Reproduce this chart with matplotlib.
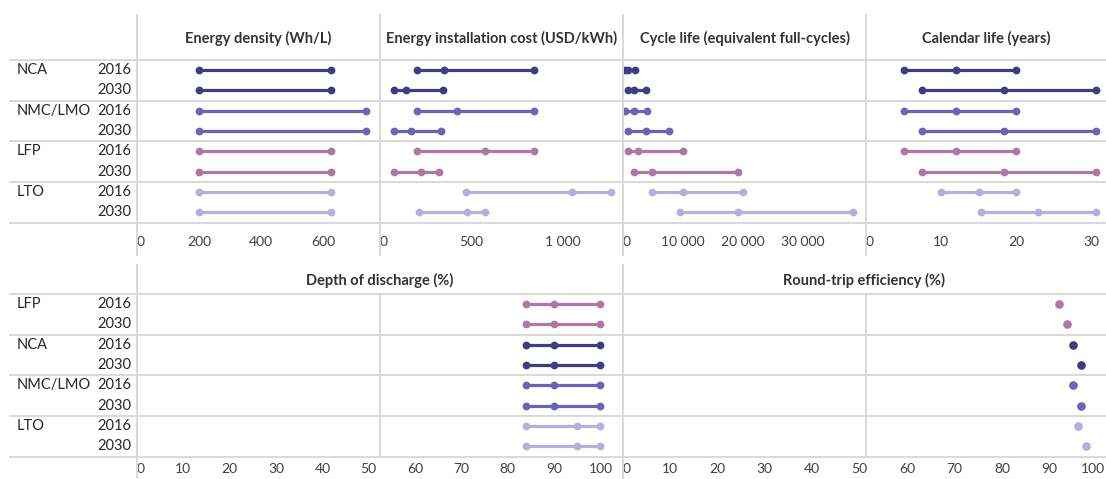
import matplotlib
matplotlib.use("Agg")
import matplotlib.pyplot as plt
from matplotlib.lines import Line2D
from matplotlib.transforms import blended_transform_factory, ScaledTranslation
import numpy as np

plt.rcParams['font.family'] = ['Lato', 'DejaVu Sans']

# ---- data ----
techs_top = ['NCA', 'NMC/LMO', 'LFP', 'LTO']
techs_bottom = ['LFP', 'NCA', 'NMC/LMO', 'LTO']
years = ['2016', '2030']
tech_colors = {'NCA': '#403c80', 'NMC/LMO': '#6b63b3', 'LFP': '#ae77a6', 'LTO': '#b6afdb'}

# energy density (Wh/L): min, max  (rows: tech x year)
density_min = [200, 200, 200, 200, 200, 200, 200, 200]
density_max = [625, 625, 740, 740, 625, 625, 625, 625]

# energy installation cost (USD/kWh): min, central, max
cost_min = [200, 76, 200, 76, 200, 76, 470, 213]
cost_mid = [350, 142, 420, 168, 575, 222, 1050, 475]
cost_max = [840, 345, 840, 333, 840, 324, 1260, 575]

# cycle life (equivalent full-cycles)
cycle_min = [300, 850, 350, 850, 900, 1750, 4900, 9500]
cycle_mid = [850, 1850, 1900, 3800, 2500, 4750, 10000, 19100]
cycle_max = [2000, 3800, 4000, 7600, 10000, 19100, 20000, 38300]

# calendar life (years)
cal_min = [5, 7.5, 5, 7.5, 5, 7.5, 10, 15.3]
cal_mid = [12, 18.4, 12, 18.4, 12, 18.4, 15, 22.9]
cal_max = [20, 30.6, 20, 30.6, 20, 30.6, 20, 30.6]

# depth of discharge (%)  (bottom row order)
dod_min = [84, 84, 84, 84, 84, 84, 84, 84]
dod_mid = [90, 90, 90, 90, 90, 90, 95, 95]
dod_max = [100, 100, 100, 100, 100, 100, 100, 100]

# round-trip efficiency (%)
rte = [92, 93.7, 95, 96.7, 95, 96.7, 96, 97.7]

# ---- layout helpers (pixel based) ----
W, H = 1106, 479
fig = plt.figure(figsize=(W / 100, H / 100), dpi=100)
grid_col = '#d9d9d9'
text_col = '#404040'


def add_ax(x0, x1, y0, y1, pad):
    ax = fig.add_axes([x0 / W, 1 - y1 / H, (x1 - x0) / W, (y1 - y0) / H])
    ax.set_ylim(7.5, -0.5)
    ax.set_yticks([])
    for s in ax.spines.values():
        s.set_visible(False)
    ax.tick_params(axis='x', length=0, pad=pad, labelsize=10, labelcolor=text_col)
    ax.patch.set_alpha(0)
    return ax


def hline(x0, x1, y):
    fig.add_artist(Line2D([x0 / W, x1 / W], [1 - y / H, 1 - y / H], color=grid_col, lw=1.4))


def vline(x, y0, y1):
    fig.add_artist(Line2D([x / W, x / W], [1 - y0 / H, 1 - y1 / H], color=grid_col, lw=1.4))


def draw_ranges(ax, rows, *series):
    for i in range(8):
        c = tech_colors[rows[i // 2]]
        xs = [s[i] for s in series]
        ax.plot(xs, [i] * len(xs), color=c, lw=2.3, marker='o', ms=4.6,
                solid_capstyle='round', zorder=3)


def set_ticks(ax, ticks, labels):
    ax.set_xticks(ticks)
    ax.set_xticklabels(labels)
    ax.get_xticklabels()[0].set_horizontalalignment('left')


def row_labels(ax, rows):
    tr = blended_transform_factory(fig.transFigure, ax.transData)
    for i in range(8):
        if i % 2 == 0:
            ax.text(17 / W, i, rows[i // 2], transform=tr, ha='left', va='center',
                    fontsize=10.5, color='#262626')
        ax.text(131 / W, i, years[i % 2], transform=tr, ha='right', va='center',
                fontsize=10.5, color='#262626')


# ---- top row ----
top_y0, top_y1 = 60, 222.5
cols_top = [137, 380, 623, 866, 1106]
titles_top = ['Energy density (Wh/L)', 'Energy installation cost (USD/kWh)',
              'Cycle life (equivalent full-cycles)', 'Calendar life (years)']
xmax_top = [784, 1328, 40450, 32]

axes_top = []
for k in range(4):
    ax = add_ax(cols_top[k], cols_top[k + 1], top_y0, top_y1, 9.5)
    ax.set_xlim(0, xmax_top[k])
    axes_top.append(ax)
    fig.text((cols_top[k] + cols_top[k + 1]) / 2 / W, 1 - 38 / H, titles_top[k],
             ha='center', va='center', fontsize=10.5, fontweight='bold', color='#333333')

draw_ranges(axes_top[0], techs_top, density_min, density_max)
draw_ranges(axes_top[1], techs_top, cost_min, cost_mid, cost_max)
draw_ranges(axes_top[2], techs_top, cycle_min, cycle_mid, cycle_max)
draw_ranges(axes_top[3], techs_top, cal_min, cal_mid, cal_max)

set_ticks(axes_top[0], [0, 200, 400, 600], ['0', '200', '400', '600'])
set_ticks(axes_top[1], [0, 500, 1000], ['0', '500', '1 000'])
set_ticks(axes_top[2], [0, 10000, 20000, 30000], ['0', '10 000', '20 000', '30 000'])
set_ticks(axes_top[3], [0, 10, 20, 30], ['0', '10', '20', '30'])
row_labels(axes_top[0], techs_top)

for y in [60, 100.5, 141, 181.5, 222.5]:
    hline(10, W, y)
for x in cols_top[:-1]:
    vline(x, 15, 255)

# ---- bottom row ----
bot_y0, bot_y1 = 294, 456.5
cols_bot = [137, 622.5, 1106]
ax_dod = add_ax(cols_bot[0], cols_bot[1], bot_y0, bot_y1, 5)
ax_dod.set_xlim(0, 104.75)
ax_rte = add_ax(cols_bot[1], cols_bot[2], bot_y0, bot_y1, 5)
ax_rte.set_xlim(0, 101.9)

draw_ranges(ax_dod, techs_bottom, dod_min, dod_mid, dod_max)
for i in range(8):
    ax_rte.plot(rte[i], i, 'o', color=tech_colors[techs_bottom[i // 2]], ms=5.2, zorder=3)

pct = list(range(0, 101, 10))
set_ticks(ax_dod, pct, [str(v) for v in pct])
set_ticks(ax_rte, pct, [str(v) for v in pct])
# keep the last label inside the figure edge
last = ax_rte.get_xticklabels()[-1]
last.set_horizontalalignment('right')
last.set_transform(last.get_transform() + ScaledTranslation(8 / 100, 0, fig.dpi_scale_trans))
row_labels(ax_dod, techs_bottom)

for ax, t in [(ax_dod, 'Depth of discharge (%)'), (ax_rte, 'Round-trip efficiency (%)')]:
    x0, x1 = ax.get_position().x0, ax.get_position().x1
    fig.text((x0 + x1) / 2, 1 - 280 / H, t, ha='center', va='center',
             fontsize=10.5, fontweight='bold', color='#333333')

for y in [294, 334.5, 375, 415.5, 456.5]:
    hline(10, W, y)
vline(137, 265, H)
vline(622.5, 265, H)
vline(380, 294, 456.5)
vline(866, 294, 456.5)

fig.savefig('out.png', dpi=100, facecolor='white')
